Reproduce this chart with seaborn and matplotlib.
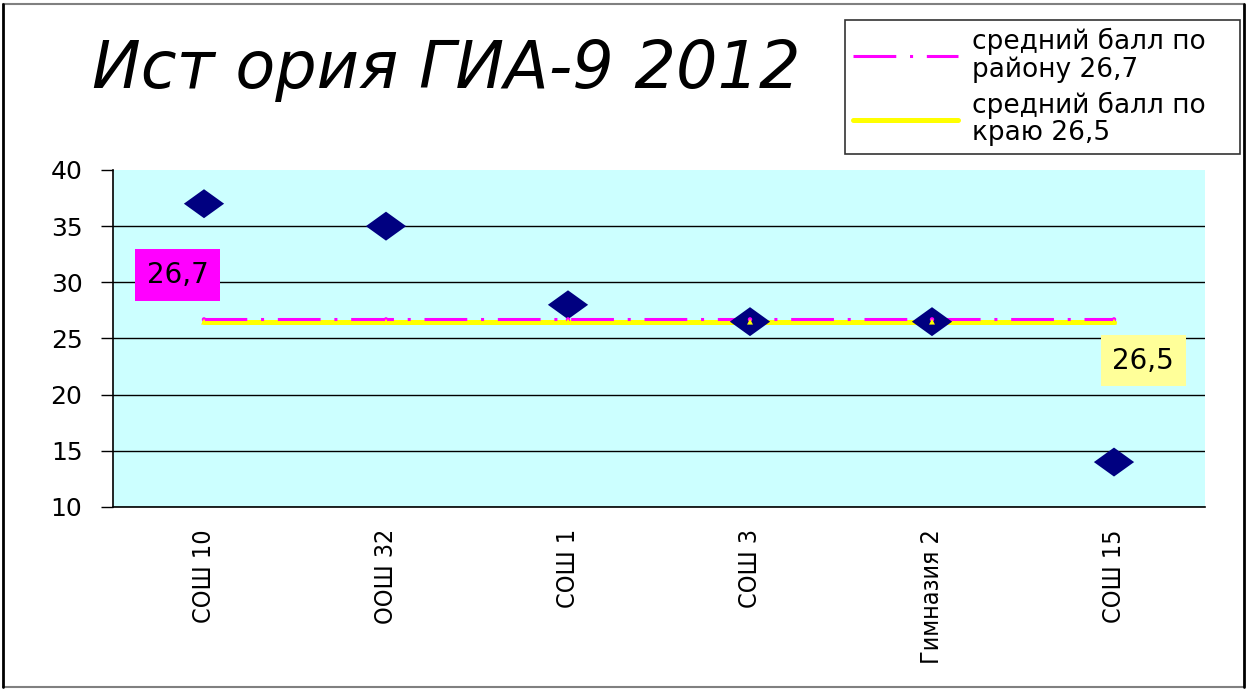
import matplotlib
matplotlib.use("Agg")
import matplotlib.pyplot as plt
from matplotlib.path import Path
from matplotlib.lines import Line2D
import seaborn as sns
import pandas as pd

schools = ["СОШ 10", "ООШ 32", "СОШ 1", "СОШ 3", "Гимназия 2", "СОШ 15"]
scores = [37, 35, 28, 26.5, 26.5, 14]
district_avg = [26.7, 26.7, 26.7, 26.7, 26.7, 26.7]
region_avg = [26.5, 26.5, 26.5, 26.5, 26.5, 26.5]
district_label = "средний балл по\nрайону 26,7"
region_label = "средний балл по\nкраю 26,5"
title = "Ист ория ГИА-9 2012"
yticks = [10, 15, 20, 25, 30, 35, 40]

sns.set_theme(style="white")
plt.rcParams['font.family'] = ['DejaVu Sans']
plt.rcParams['text.color'] = 'black'
plt.rcParams['xtick.color'] = 'black'
plt.rcParams['ytick.color'] = 'black'

df = pd.DataFrame({"pos": list(range(len(schools))), "school": schools,
                   "score": scores, "district": district_avg, "region": region_avg})

fig = plt.figure(figsize=(12.47, 6.89), dpi=100)
fig.patch.set_facecolor("white")
ax = fig.add_axes([113/1247, 1-507/689, (1205-113)/1247, (507-170)/689])
ax.set_facecolor("#CCFFFF")

diamond = Path([(-1, 0), (0, 0.72), (1, 0), (0, -0.72), (-1, 0)],
               [Path.MOVETO, Path.LINETO, Path.LINETO, Path.LINETO, Path.CLOSEPOLY])

sns.lineplot(data=df, x="pos", y="region", ax=ax, color="#FFFF00", lw=3.6,
             label=region_label, zorder=2, legend=False)
sns.lineplot(data=df, x="pos", y="district", ax=ax, color="#FF00FF", lw=2.2,
             linestyle=(0, (14, 4.5, 1, 4.5)), label=district_label, zorder=2.5, legend=False)
sns.scatterplot(data=df, x="pos", y="score", ax=ax, marker=diamond, s=840,
                color="#000080", edgecolor="none", zorder=3, legend=False)
sns.scatterplot(data=df, x="pos", y="district", ax=ax, marker="o", s=10,
                color="#FF00FF", edgecolor="none", zorder=4, legend=False)
sns.scatterplot(data=df, x="pos", y="region", ax=ax, marker="^", s=18,
                color="#FFFF00", edgecolor="none", zorder=4, legend=False)

ax.set_xlim(-0.5, len(schools) - 0.5)
ax.set_ylim(10, 40)
ax.set_yticks(yticks)
ax.set_yticklabels([str(v) for v in yticks], fontsize=18)
ax.set_xticks(range(len(schools)))
ax.set_xticklabels(schools, rotation=90, fontsize=18, fontstretch="condensed", va="top")
ax.set_xticks([i - 0.5 for i in range(len(schools) + 1)], minor=True)
ax.tick_params(axis="x", which="major", length=0, pad=16)
ax.tick_params(axis="x", which="minor", length=6, width=1, color="black", direction="out")
ax.tick_params(axis="y", length=9, width=1, color="black", direction="out", left=True, pad=13)
ax.set_xlabel("")
ax.set_ylabel("")

ax.grid(axis="y", color="black", lw=1)
ax.yaxis.get_gridlines()[-1].set_visible(False)
ax.set_axisbelow(True)
for s in ["top", "right"]:
    ax.spines[s].set_visible(False)
for s in ["left", "bottom"]:
    ax.spines[s].set_color("black")
    ax.spines[s].set_linewidth(1.2)

ax.annotate(f"{district_avg[0]:.1f}".replace(".", ","), xy=(0, district_avg[0]),
            xytext=(-19, 32), textcoords="offset points", ha="center", va="center",
            fontsize=20, zorder=5,
            bbox=dict(boxstyle="square,pad=0.42", fc="#FF00FF", ec="none"))
ax.annotate(f"{region_avg[-1]:.1f}".replace(".", ","), xy=(len(schools) - 1, region_avg[-1]),
            xytext=(21, -28), textcoords="offset points", ha="center", va="center",
            fontsize=20, zorder=5,
            bbox=dict(boxstyle="square,pad=0.42", fc="#FFFF99", ec="none"))

fig.text(92/1247, 1-70/689, title, fontsize=47, style="italic", va="center", ha="left")

W, H = 1247, 689
handles, labels = ax.get_legend_handles_labels()
order = [labels.index(district_label), labels.index(region_label)]
leg = fig.legend([handles[i] for i in order], [labels[i] for i in order],
                 loc="upper left", bbox_to_anchor=(845/W, 1-155/H, 395/W, 135/H),
                 mode="expand",
                 fontsize=19, frameon=True, fancybox=False, edgecolor="black",
                 handlelength=4.0, borderpad=0.3, labelspacing=0.35, handletextpad=0.5,
                 borderaxespad=0)
leg.get_frame().set_linewidth(1.2)
for t in leg.get_texts():
    t.set_linespacing(1.05)

fig.lines.append(Line2D([3/W, 1244/W], [1-4/H, 1-4/H], transform=fig.transFigure, color="#808080", lw=1.5))
fig.lines.append(Line2D([3/W, 1244/W], [1-687/H, 1-687/H], transform=fig.transFigure, color="#808080", lw=1.5))
fig.lines.append(Line2D([3/W, 3/W], [1-4/H, 1-687/H], transform=fig.transFigure, color="black", lw=2))
fig.lines.append(Line2D([1244/W, 1244/W], [1-4/H, 1-687/H], transform=fig.transFigure, color="black", lw=2))

fig.savefig("out.png", dpi=100)
